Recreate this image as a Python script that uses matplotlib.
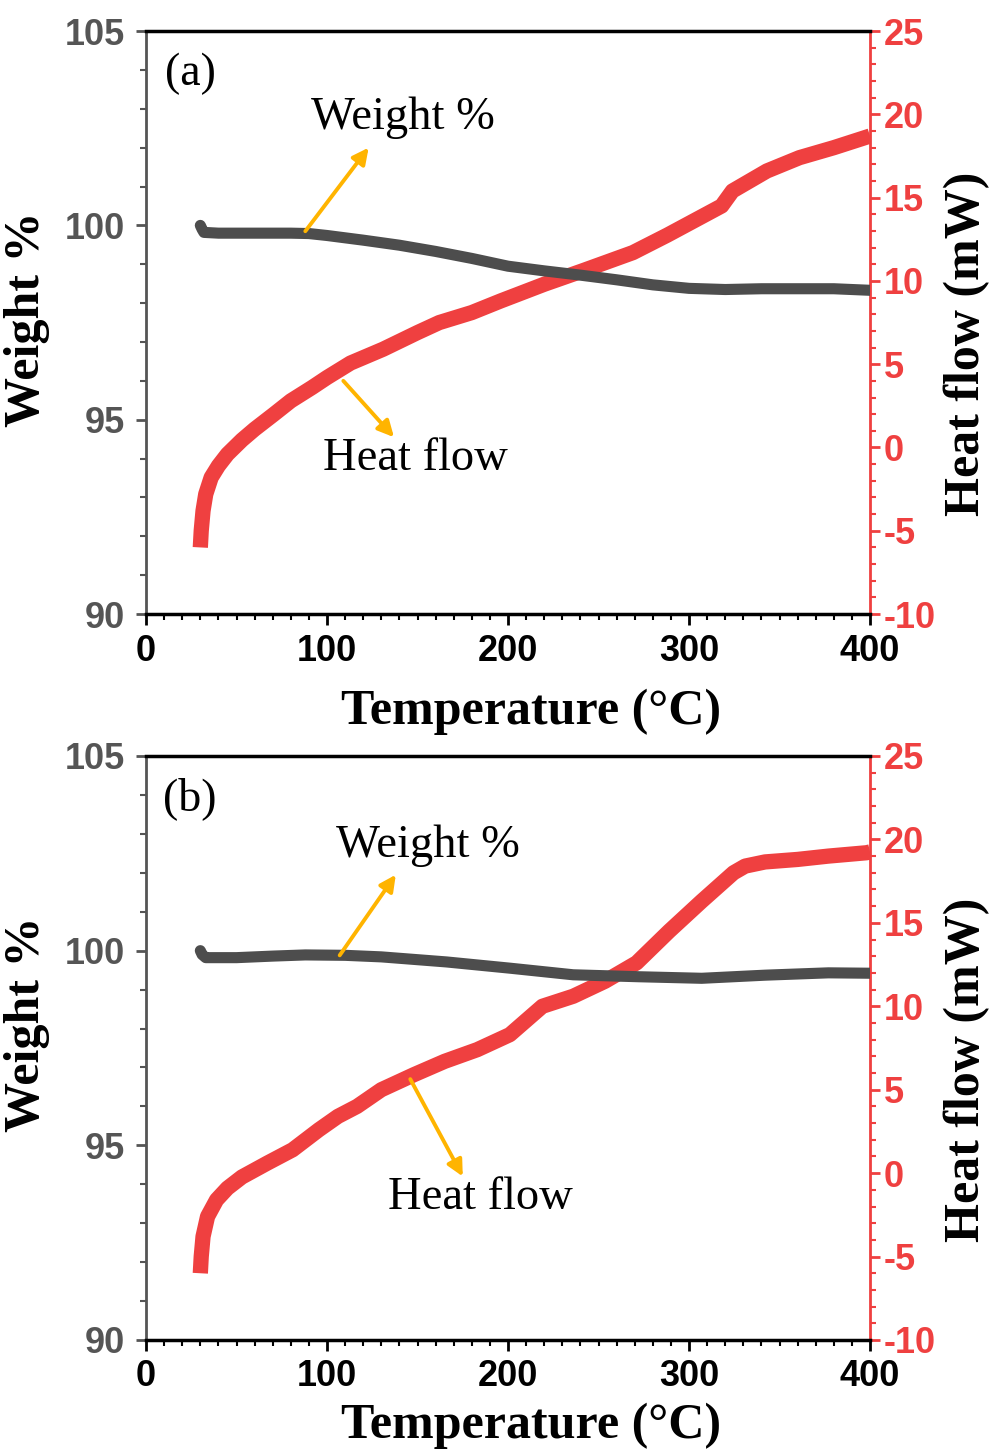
import matplotlib
matplotlib.use('Agg')
import matplotlib.pyplot as plt
from matplotlib.ticker import MultipleLocator
import numpy as np

plt.rcParams['axes.unicode_minus'] = False

# ---- data ----
# panel (a)
wa_T = [30, 31, 32, 40, 60, 80, 90, 100, 120, 140, 160, 180, 200, 220, 240, 260, 280, 300, 320, 340, 360, 380, 400]
wa_W = [100.0, 99.9, 99.82, 99.8, 99.8, 99.8, 99.79, 99.74, 99.62, 99.49, 99.33, 99.15, 98.95, 98.83, 98.72, 98.6, 98.47, 98.38, 98.35, 98.37, 98.37, 98.37, 98.33]
ha_T = [30, 30.5, 31.5, 33, 36, 40, 45, 53, 60, 70.7, 80, 91.7, 100, 113, 131, 150, 162, 180, 196, 220, 241, 269, 288, 306, 318, 324, 343, 361, 380, 400]
ha_H = [-6.0, -5.0, -3.8, -2.8, -1.8, -1.1, -0.4, 0.45, 1.1, 2.0, 2.8, 3.6, 4.2, 5.07, 5.9, 6.9, 7.5, 8.1, 8.8, 9.8, 10.6, 11.7, 12.75, 13.8, 14.5, 15.4, 16.6, 17.4, 18.0, 18.7]

# panel (b)
wb_T = [30, 31, 33, 50, 70, 88, 110, 130, 166, 201, 236, 272, 307, 342, 377, 400]
wb_W = [100.0, 99.9, 99.82, 99.82, 99.86, 99.89, 99.88, 99.84, 99.71, 99.55, 99.38, 99.33, 99.29, 99.37, 99.43, 99.42]
hb_T = [30, 30.5, 31.5, 34, 39, 45, 53, 67, 81, 95.5, 106, 116.6, 130, 148, 165, 183, 201, 219, 236, 253.6, 271, 289, 307, 324.6, 331, 342, 360, 377, 398, 400]
hb_H = [-6.0, -5.0, -3.8, -2.6, -1.6, -0.9, -0.23, 0.6, 1.4, 2.6, 3.4, 4.0, 5.0, 5.9, 6.7, 7.4, 8.3, 10.0, 10.6, 11.5, 12.6, 14.5, 16.3, 18.0, 18.4, 18.65, 18.8, 19.0, 19.2, 19.25]

panels = [
    dict(tag='(a)', wT=wa_T, wW=wa_W, hT=ha_T, hH=ha_H,
         w_txt=(142, 102.76), w_arrow=((88, 99.85), (123, 102.0)),
         h_txt=(149, 94.0), h_arrow=((109, 96.0), (137, 94.55)),
         box=[0.1469, 0.5768, 0.7284, 0.4018], xlab_y=-0.128, wl_y=0.506, hl_y=0.464),
    dict(tag='(b)', wT=wb_T, wW=wb_W, hT=hb_T, hH=hb_H,
         w_txt=(156, 102.7), w_arrow=((107, 99.88), (138, 101.95)),
         h_txt=(184.5, 93.65), h_arrow=((146, 96.7), (175, 94.2)),
         box=[0.1469, 0.0765, 0.7284, 0.4025], xlab_y=-0.108, wl_y=0.54, hl_y=0.462),
]

gray = '#4d4d4d'
red = '#ef4040'
orange = '#ffb400'
axgray = '#555555'

fig = plt.figure(figsize=(9.94, 14.51), dpi=100)

for p in panels:
    ax = fig.add_axes(p['box'])
    ax2 = ax.twinx()
    ax.set_zorder(ax2.get_zorder() + 1)
    ax.patch.set_visible(False)

    ax2.plot(p['hT'], p['hH'], color=red, lw=11, solid_capstyle='butt', zorder=2)
    ax.plot(p['wT'], p['wW'], color=gray, lw=8, solid_capstyle='round', zorder=3)

    ax.set_xlim(0, 400)
    ax.set_ylim(90, 105)
    ax2.set_ylim(-10, 25)

    ax.xaxis.set_major_locator(MultipleLocator(100))
    ax.xaxis.set_minor_locator(MultipleLocator(10))
    ax.yaxis.set_major_locator(MultipleLocator(5))
    ax.yaxis.set_minor_locator(MultipleLocator(1))
    ax2.yaxis.set_major_locator(MultipleLocator(5))
    ax2.yaxis.set_minor_locator(MultipleLocator(1))

    for s in ['top', 'bottom']:
        ax.spines[s].set_linewidth(2.5)
        ax.spines[s].set_color('black')
    ax.spines['left'].set_color(axgray)
    ax.spines['left'].set_linewidth(2)
    ax.spines['right'].set_visible(False)
    for s in ['top', 'bottom', 'left']:
        ax2.spines[s].set_visible(False)
    ax2.spines['right'].set_color(red)
    ax2.spines['right'].set_linewidth(2)

    ax.tick_params(axis='x', which='major', direction='out', length=8, width=2, colors='black', pad=6)
    ax.tick_params(axis='x', which='minor', direction='out', length=4, width=1.5, colors='black')
    ax.tick_params(axis='y', which='major', direction='out', length=7, width=2, colors=axgray, pad=8)
    ax.tick_params(axis='y', which='minor', direction='out', length=4, width=1.5, colors=axgray)
    ax2.tick_params(axis='y', which='major', direction='out', length=7, width=2, colors=red, pad=3)
    ax2.tick_params(axis='y', which='minor', direction='out', length=4, width=1.5, colors=red)

    for lab in ax.get_xticklabels() + ax.get_yticklabels() + ax2.get_yticklabels():
        lab.set_fontfamily('Liberation Sans')
        lab.set_fontweight('bold')
        lab.set_fontsize(26)

    ax.set_xlabel('Temperature (°C)', family='Liberation Serif', weight='bold', fontsize=36)
    ax.xaxis.set_label_coords(0.532, p['xlab_y'])
    ax.set_ylabel('Weight %', family='Liberation Serif', weight='bold', fontsize=36)
    ax.yaxis.set_label_coords(-0.133, p['wl_y'])
    ax2.set_ylabel('Heat flow (mW)', family='Liberation Serif', weight='bold', fontsize=36, rotation=90)
    ax2.yaxis.set_label_coords(1.102, p['hl_y'])

    ax.text(24.3, 103.9, p['tag'], family='Liberation Serif', fontsize=33, ha='center', va='center')
    ax.text(p['w_txt'][0], p['w_txt'][1], 'Weight %', family='Liberation Serif', fontsize=33.5, ha='center', va='center')
    ax.text(p['h_txt'][0], p['h_txt'][1], 'Heat flow', family='Liberation Serif', fontsize=33.5, ha='center', va='center')
    ax.annotate('', xy=p['w_arrow'][1], xytext=p['w_arrow'][0],
                arrowprops=dict(arrowstyle='-|>', color=orange, lw=2.8, mutation_scale=24, shrinkA=0, shrinkB=0))
    ax.annotate('', xy=p['h_arrow'][1], xytext=p['h_arrow'][0],
                arrowprops=dict(arrowstyle='-|>', color=orange, lw=2.8, mutation_scale=24, shrinkA=0, shrinkB=0))

fig.savefig('out.png', dpi=100)
